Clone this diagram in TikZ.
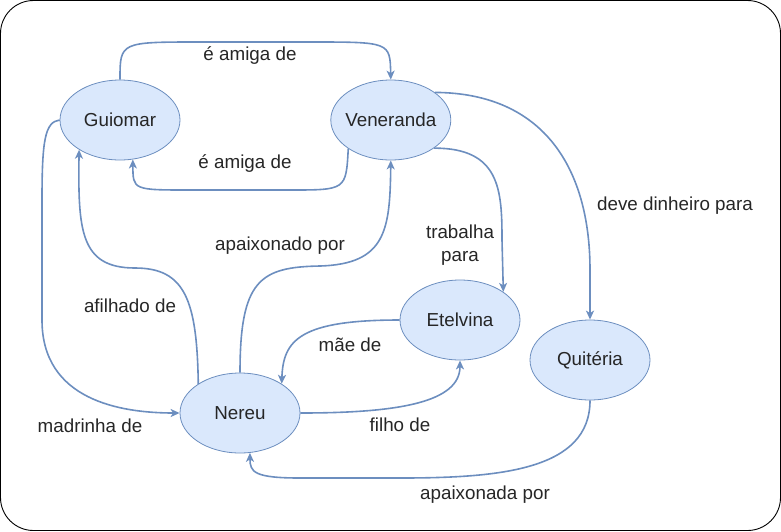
\documentclass[tikz,border=0pt]{standalone}
\usepackage{fontspec}
\setmainfont{Liberation Sans}
\usetikzlibrary{positioning,shapes.geometric,arrows.meta}
\definecolor{edgeblue}{HTML}{6C8EBF}
\definecolor{nodefill}{HTML}{DAE8FC}

\begin{document}
\begin{tikzpicture}[x=1pt, y=-1pt,
      font=\fontsize{18.8}{22.5}\selectfont, text=black!85,
      person/.style={ellipse, draw=edgeblue, fill=nodefill, line width=0.8pt,
          minimum width=120pt, minimum height=80pt, inner sep=-4pt},
      rel/.style={draw=edgeblue, line width=1.6pt,
          -{Stealth[length=9pt, width=8pt, inset=2.5pt]}},
      lbl/.style={inner sep=0pt, align=center}]

      \useasboundingbox (0,0) rectangle (781,531);

      % Outer frame
      \draw[rounded corners=33pt, line width=0.9pt] (0.5,0.5) rectangle (780.5,530.5);

      % People
      \node(guiomar)[person] at (120,120) {Guiomar};
      \node(veneranda)[person, right=150pt of guiomar] {Veneranda};
      \node(etelvina)[person] at (460,320) {Etelvina};
      \node(quiteria)[person] at (590,360) {Quitéria};
      \node(nereu)[person] at (240,413) {Nereu};

      % Friendship between Guiomar and Veneranda
      \draw[rel] (guiomar.north) .. controls (120,42) .. (200,42) -- (310,42)
          .. controls (390,42) .. (veneranda.north);
      \node(friend1)[lbl] at (250,56) {é amiga de};
      \draw[rel] (veneranda.214) .. controls (346,190) .. (290,190) -- (190,190)
          .. controls (133,190) .. (guiomar.288);
      \node(friend2)[lbl] at (245,164) {é amiga de};

      % Veneranda's links to Etelvina and Quiteria
      \draw[rel] (veneranda.327) .. controls (500,148) and (502,190) .. (502,240)
          -- (etelvina.33);
      \node(works)[lbl] at (460,245) {trabalha\\para};
      \draw[rel] (veneranda.32) .. controls (545,93) and (590,170) .. (590,270)
          -- (quiteria.north);
      \node(owes)[lbl] at (675,206) {deve dinheiro para};

      % Quiteria back to Nereu
      \draw[rel] (quiteria.south) .. controls (590,470) and (500,478) .. (400,478)
          -- (300,478) .. controls (254,478) and (250,472) .. (nereu.284);
      \node(lovesher)[lbl] at (485,495) {apaixonada por};

      % Nereu and Etelvina
      \draw[rel] (nereu.east) .. controls (400,413) and (460,402) .. (etelvina.south);
      \node(son)[lbl] at (400,425) {filho de};
      \draw[rel] (etelvina.west) .. controls (300,320) and (283,340) .. (nereu.35);
      \node(mother)[lbl] at (350,345) {mãe de};

      % Nereu up to Veneranda and Guiomar
      \draw[rel] (nereu.north) .. controls (240,280) and (260,267) .. (320,266)
          .. controls (386,264) and (390,230) .. (veneranda.south);
      \node(loveshim)[lbl] at (280,246) {apaixonado por};
      \draw[rel] (nereu.145) .. controls (197,300) and (185,268) .. (135,268)
          .. controls (80,268) and (78,230) .. (guiomar.216);
      \node(godson)[lbl] at (130,306) {afilhado de};

      % Guiomar down to Nereu
      \draw[rel] (guiomar.west) .. controls (45,122) and (42,140) .. (42,200)
          -- (42,320) .. controls (42,400) and (120,413) .. (nereu.west);
      \node(godmother)[lbl] at (90,426) {madrinha de};

\end{tikzpicture}
\end{document}
